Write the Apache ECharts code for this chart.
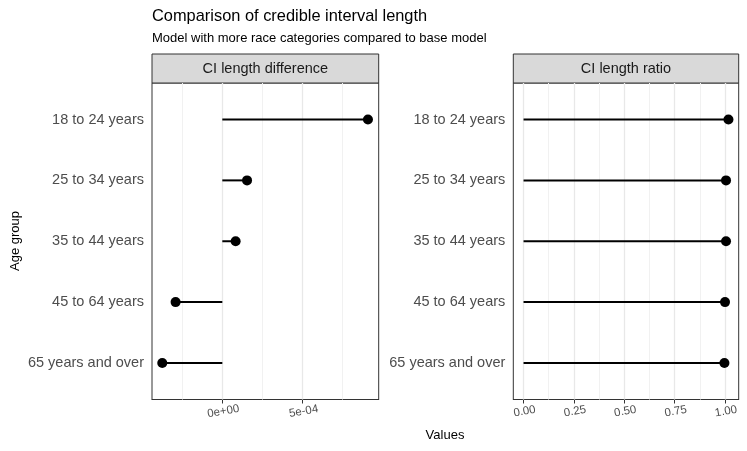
<!DOCTYPE html>
<html>
<head>
<meta charset="utf-8">
<script src="https://cdn.jsdelivr.net/npm/echarts@6/dist/echarts.min.js"></script>
<style>
  html, body { margin: 0; padding: 0; background: #fff; }
  #main { width: 747px; height: 451px; }
</style>
</head>
<body>
<div id="main"></div>
<script>
// data
var ageGroups = ['18 to 24 years', '25 to 34 years', '35 to 44 years', '45 to 64 years', '65 years and over'];
var ciDiff = [9.07e-4, 1.54e-4, 0.83e-4, -2.91e-4, -3.74e-4];
var ciRatio = [1.017, 1.005, 1.005, 1.0, 0.997];

var diffTicks = [0, 5e-4];
var diffTickLabels = ['0e+00', '5e-04'];
var diffMinor = [-2.5e-4, 2.5e-4, 7.5e-4];
var ratioTicks = [0, 0.25, 0.5, 0.75, 1];
var ratioTickLabels = ['0.00', '0.25', '0.50', '0.75', '1.00'];
var ratioMinor = [0.125, 0.375, 0.625, 0.875];

var FONT = 'Liberation Sans';
var myChart = echarts.init(document.getElementById('main'));

function pairs(vals) {
    return vals.map(function (v, i) { return [v, i]; });
}

function gridLines(major, minor) {
    var d = [];
    minor.forEach(function (v) { d.push({ xAxis: v, lineStyle: { color: '#f1f1f1', width: 1, type: 'solid' } }); });
    major.forEach(function (v) { d.push({ xAxis: v, lineStyle: { color: '#e8e8e8', width: 1.3, type: 'solid' } }); });
    return d;
}

function xAxisFor(idx, min, max, ticks, labels) {
    return {
        type: 'value', gridIndex: idx, min: min, max: max, position: 'bottom',
        axisLine: { show: true, onZero: false, lineStyle: { color: '#333', width: 1 } },
        splitLine: { show: false },
        axisTick: { show: true, length: 4, lineStyle: { color: '#333', width: 1 }, customValues: ticks },
        axisLabel: {
            customValues: ticks, rotate: 10, margin: 6,
            align: 'center', verticalAlign: 'top',
            color: '#4d4d4d', fontSize: 11.5, fontFamily: FONT,
            formatter: function (v) {
                for (var k = 0; k < ticks.length; k++) {
                    if (Math.abs(ticks[k] - v) < 1e-12) return labels[k];
                }
                return '';
            }
        }
    };
}

function yAxisFor(idx) {
    return {
        type: 'value', gridIndex: idx, min: -0.6, max: 4.6, inverse: true, position: 'left',
        axisLine: { show: false, onZero: false },
        axisTick: { show: false },
        splitLine: { show: false },
        axisLabel: {
            customValues: [0, 1, 2, 3, 4], margin: 8,
            color: '#4d4d4d', fontSize: 14.5, fontFamily: FONT,
            formatter: function (v) { return ageGroups[Math.round(v)]; }
        }
    };
}

function segRender(params, api) {
    var a = api.coord([0, api.value(1)]);
    var b = api.coord([api.value(0), api.value(1)]);
    return {
        type: 'line',
        shape: { x1: a[0], y1: a[1], x2: b[0], y2: b[1] },
        style: { stroke: '#000', lineWidth: 2 }
    };
}

function strip(x, w, text) {
    return {
        type: 'rect',
        shape: { x: x, y: 54, width: w, height: 29 },
        style: { fill: '#d9d9d9', stroke: '#333', lineWidth: 1 },
        textContent: { style: { text: text, fontSize: 14.5, fontFamily: FONT, fill: '#1a1a1a' } },
        textConfig: { position: 'inside' }
    };
}

function gridSeries(idx, major, minor) {
    return {
        type: 'line', xAxisIndex: idx, yAxisIndex: idx, data: [], z: 1, silent: true,
        markLine: { silent: true, z: 1, precision: 10, symbol: 'none', label: { show: false },
                    animation: false, data: gridLines(major, minor) }
    };
}

var option = {
    animation: false,
    backgroundColor: '#fff',
    title: [
        { text: 'Comparison of credible interval length', left: 152, top: 8, padding: 0,
          textStyle: { fontSize: 16.4, fontWeight: 'normal', color: '#000', fontFamily: FONT } },
        { text: 'Model with more race categories compared to base model', left: 152, top: 32, padding: 0,
          textStyle: { fontSize: 13, fontWeight: 'normal', color: '#000', fontFamily: FONT } },
        { text: 'Values', left: 445, top: 429, padding: 0, textAlign: 'center',
          textStyle: { fontSize: 13, fontWeight: 'normal', color: '#000', fontFamily: FONT } }
    ],
    graphic: [
        strip(152, 226.7, 'CI length difference'),
        strip(513.3, 225.4, 'CI length ratio'),
        {
            type: 'text', x: 15, y: 241, rotation: Math.PI / 2,
            style: { text: 'Age group', fontSize: 13, fontFamily: FONT, fill: '#000',
                     align: 'center', verticalAlign: 'middle' }
        }
    ],
    grid: [
        { left: 152, top: 83, width: 226.7, height: 316.5, show: true,
          borderColor: '#333', borderWidth: 1, backgroundColor: '#fff' },
        { left: 513.3, top: 83, width: 225.4, height: 316.5, show: true,
          borderColor: '#333', borderWidth: 1, backgroundColor: '#fff' }
    ],
    xAxis: [
        xAxisFor(0, -4.38e-4, 9.74e-4, diffTicks, diffTickLabels),
        xAxisFor(1, -0.0509, 1.0679, ratioTicks, ratioTickLabels)
    ],
    yAxis: [yAxisFor(0), yAxisFor(1)],
    series: [
        gridSeries(0, diffTicks, diffMinor),
        gridSeries(1, ratioTicks, ratioMinor),
        { type: 'custom', xAxisIndex: 0, yAxisIndex: 0, z: 3, renderItem: segRender,
          encode: { x: 0, y: 1 }, data: pairs(ciDiff) },
        { type: 'custom', xAxisIndex: 1, yAxisIndex: 1, z: 3, renderItem: segRender,
          encode: { x: 0, y: 1 }, data: pairs(ciRatio) },
        { type: 'scatter', xAxisIndex: 0, yAxisIndex: 0, z: 4, symbolSize: 10,
          itemStyle: { color: '#000', opacity: 1 }, data: pairs(ciDiff) },
        { type: 'scatter', xAxisIndex: 1, yAxisIndex: 1, z: 4, symbolSize: 10,
          itemStyle: { color: '#000', opacity: 1 }, data: pairs(ciRatio) }
    ]
};

myChart.setOption(option);
</script>
</body>
</html>
